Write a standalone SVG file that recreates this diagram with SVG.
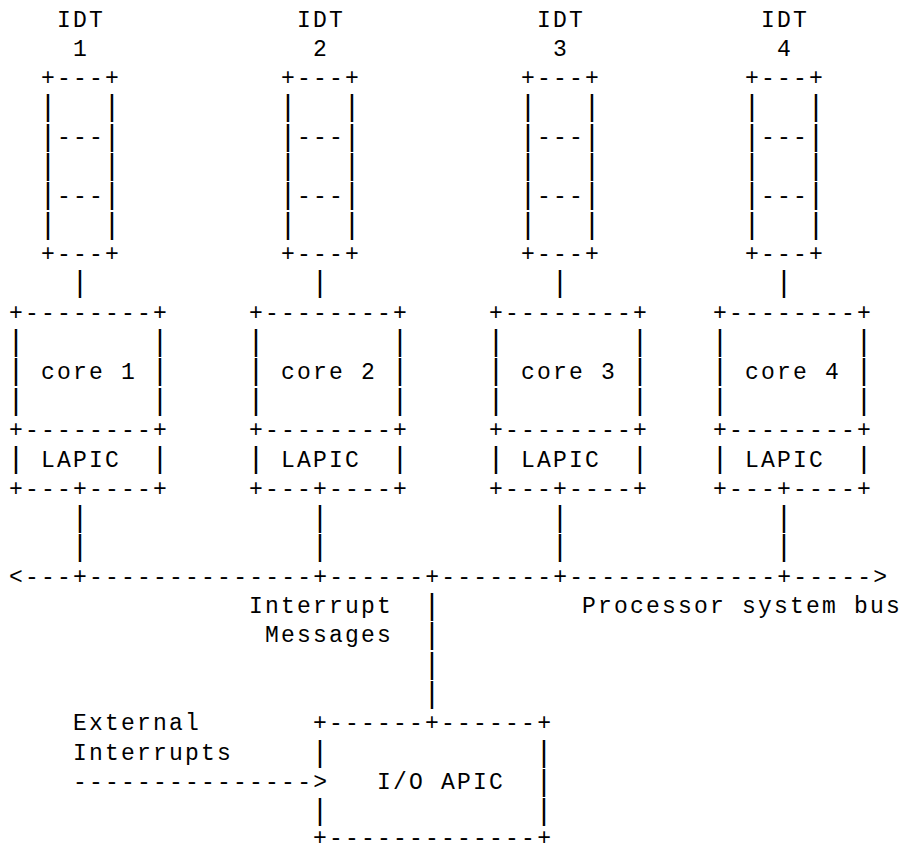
<svg xmlns="http://www.w3.org/2000/svg" width="903" height="845" viewBox="0 0 903 845" xml:space="preserve">
<style>
text{font-family:"Liberation Mono","DejaVu Sans Mono",monospace;font-size:23px;letter-spacing:2.2px;fill:#000;white-space:pre}
text.v{font-size:29px;letter-spacing:0}
</style>
<defs>
<g id="idtBox">
<text y="85.2">+---+</text>
<text class="v" x="-1.8 -1.8 -1.8 -1.8 -1.8" y="116.3 145.6 175 204.3 233.6">|||||</text>
<text class="v" x="62.2 62.2 62.2 62.2 62.2" y="116.3 145.6 175 204.3 233.6">|||||</text>
<text x="16" y="143.8">---</text>
<text x="16" y="202.5">---</text>
<text y="261.1">+---+</text>
</g>
<g id="coreBox">
<text y="319.8">+--------+</text>
<text class="v" x="-1.8 -1.8 -1.8" y="350.9 380.3 409.6">|||</text>
<text class="v" x="142.2 142.2 142.2" y="350.9 380.3 409.6">|||</text>
<text y="437.1">+--------+</text>
<text class="v" x="-1.8" y="468.3">|</text>
<text x="32" y="466.5">LAPIC</text>
<text class="v" x="142.2" y="468.3">|</text>
<text y="495.8">+---+----+</text>
</g>
<g id="drop">
<text class="v" x="-1.8 -1.8 -1.8" y="292.3 526.9 556.2">|||</text>
</g>
</defs>
<rect width="903" height="845" fill="#fff"/>
<g id="idt1"><text x="57.1" y="26.5">IDT</text><text x="73.1" y="55.8">1</text><use href="#idtBox" x="41.1"/></g>
<g id="idt2"><text x="297.1" y="26.5">IDT</text><text x="313.1" y="55.8">2</text><use href="#idtBox" x="281.1"/></g>
<g id="idt3"><text x="537.1" y="26.5">IDT</text><text x="553.1" y="55.8">3</text><use href="#idtBox" x="521.1"/></g>
<g id="idt4"><text x="761.1" y="26.5">IDT</text><text x="777.1" y="55.8">4</text><use href="#idtBox" x="745.1"/></g>
<g id="core1"><use href="#coreBox" x="9.1"/><text x="41.1" y="378.5">core 1</text></g>
<g id="core2"><use href="#coreBox" x="249.1"/><text x="281.1" y="378.5">core 2</text></g>
<g id="core3"><use href="#coreBox" x="489.1"/><text x="521.1" y="378.5">core 3</text></g>
<g id="core4"><use href="#coreBox" x="713.1"/><text x="745.1" y="378.5">core 4</text></g>
<g id="ioapic">
<text x="313.1" y="730.4">+------+------+</text>
<text class="v" x="311.3 311.3" y="761.6 820.2">||</text>
<text class="v" x="535.3 535.3 535.3" y="761.6 790.9 820.2">|||</text>
<text x="377.1" y="789.1">I/O APIC</text>
<text x="313.1" y="845">+-------------+</text>
</g>
<g id="connectors">
<use href="#drop" x="73.1"/>
<use href="#drop" x="313.1"/>
<use href="#drop" x="553.1"/>
<use href="#drop" x="777.1"/>
<text x="9.1" y="583.8">&lt;---+--------------+------+-------+-------------+-----&gt;</text>
<text class="v" x="423.3 423.3 423.3 423.3" y="614.9 644.2 673.6 702.9">||||</text>
<text x="73.1" y="789.1">---------------&gt;</text>
</g>
<g id="labels">
<text x="249.1" y="613.1">Interrupt</text>
<text x="265.1" y="642.4">Messages</text>
<text x="582" y="613.1">Processor system bus</text>
<text x="73.1" y="730.4">External</text>
<text x="73.1" y="759.8">Interrupts</text>
</g>
</svg>
